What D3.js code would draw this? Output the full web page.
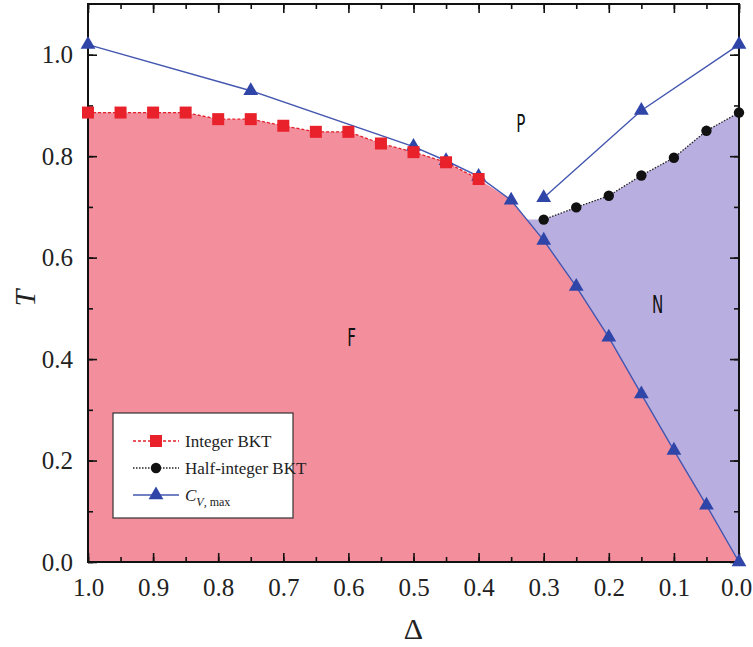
<!DOCTYPE html>
<html>
<head>
<meta charset="utf-8">
<script src="https://cdn.jsdelivr.net/npm/d3@7"></script>
<style>
  body { margin: 0; background: #fff; }
</style>
</head>
<body>
<div id="chart"></div>
<script>
// Integer BKT (red squares)
var integerDelta = [1.0, 0.95, 0.9, 0.85, 0.8, 0.75, 0.7, 0.65, 0.6, 0.55, 0.5, 0.45, 0.4]
var integerT = [0.886, 0.886, 0.886, 0.886, 0.873, 0.873, 0.860, 0.848, 0.848, 0.825, 0.808, 0.788, 0.755]

// Half-integer BKT (black circles)
var halfDelta = [0.3, 0.25, 0.2, 0.15, 0.1, 0.05, 0.0]
var halfT = [0.675, 0.699, 0.722, 0.762, 0.797, 0.850, 0.886]

// C_V,max (blue triangles), lower branch and upper branch
var cvLowerDelta = [1.0, 0.75, 0.5, 0.45, 0.4, 0.35, 0.3, 0.25, 0.2, 0.15, 0.1, 0.05, 0.0]
var cvLowerT = [1.02, 0.929, 0.819, 0.791, 0.760, 0.713, 0.634, 0.543, 0.443, 0.331, 0.220, 0.112, 0.0]
var cvUpperDelta = [0.3, 0.15, 0.0]
var cvUpperT = [0.718, 0.890, 1.02]

var xTicks = [1.0, 0.9, 0.8, 0.7, 0.6, 0.5, 0.4, 0.3, 0.2, 0.1, 0.0]
var yTicks = [0.0, 0.2, 0.4, 0.6, 0.8, 1.0]

var zip = (xs, ys) => xs.map((d, i) => ({delta: d, t: ys[i]}))
var integerPts = zip(integerDelta, integerT)
var halfPts = zip(halfDelta, halfT)
var cvLower = zip(cvLowerDelta, cvLowerT)
var cvUpper = zip(cvUpperDelta, cvUpperT)

var serif = '"Liberation Serif", "Times New Roman", serif'

var margin = {top: 4, right: 14, bottom: 85, left: 88}
var width = 753 - margin.left - margin.right
var height = 647 - margin.top - margin.bottom

var svg = d3.select('#chart')
    .append('svg')
    .attr('width', 753)
    .attr('height', 647)
    .append('g')
    .attr('transform', `translate(${margin.left}, ${margin.top})`)

var x = d3.scaleLinear().domain([1.0, 0.0]).range([0, width])
var y = d3.scaleLinear().domain([0, 1.1]).range([height, 0])

// F region: under integer BKT down to 0.4, then under the C_V lower branch
var fTop = integerPts.concat(cvLower.filter(d => d.delta < 0.4))
var area = d3.area().x(d => x(d.delta)).y0(y(0)).y1(d => y(d.t))
svg.append('path')
    .datum(fTop)
    .attr('d', area)
    .attr('fill', '#f38e9d')

// N region: between half-integer BKT and C_V lower branch
// junction where the C_V branch reaches the first half-integer temperature
var tJ = halfPts[0].t
var jIdx = cvLower.findIndex(d => d.t < tJ)
var a = cvLower[jIdx - 1], b = cvLower[jIdx]
var junction = {delta: a.delta + (b.delta - a.delta) * (a.t - tJ) / (a.t - b.t), t: tJ}
var nPoly = [junction].concat(halfPts)
    .concat(cvLower.filter(d => d.delta < junction.delta).reverse())
svg.append('path')
    .attr('d', d3.line().x(d => x(d.delta)).y(d => y(d.t))(nPoly) + 'Z')
    .attr('fill', '#b9aee0')

// frame + ticks
function minorVals(step, lo, hi) {
    var out = []
    for (var v = lo; v <= hi + 1e-9; v += step) out.push(+v.toFixed(3))
    return out
}
var xMinor = minorVals(0.05, 0, 1)
var yMinor = minorVals(0.1, 0, 1.05)

function styleAxis(g) {
    g.attr('class', 'axis')
    g.select('.domain').remove()
    g.selectAll('line').attr('stroke', '#111').attr('stroke-width', 1.6)
    g.selectAll('text')
        .style('font-family', serif)
        .style('font-size', '25px')
        .attr('fill', '#222')
}

svg.append('g')
    .attr('transform', `translate(0, ${height})`)
    .call(d3.axisBottom(x).tickValues(xMinor).tickSize(-5).tickFormat(''))
    .call(styleAxis)
var xAxis = svg.append('g')
    .attr('transform', `translate(0, ${height})`)
    .call(d3.axisBottom(x).tickValues(xTicks).tickSize(-9).tickPadding(16).tickFormat(d3.format('.1f')))
    .call(styleAxis)
// keep the last label inside the picture
xAxis.selectAll('text').filter(d => d === 0).attr('dx', -3)
svg.append('g')
    .call(d3.axisTop(x).tickValues(xMinor).tickSize(-5).tickFormat(''))
    .call(styleAxis)
svg.append('g')
    .call(d3.axisTop(x).tickValues(xTicks).tickSize(-9).tickFormat(''))
    .call(styleAxis)

svg.append('g')
    .call(d3.axisLeft(y).tickValues(yMinor).tickSize(-5).tickFormat(''))
    .call(styleAxis)
svg.append('g')
    .call(d3.axisLeft(y).tickValues(yTicks).tickSize(-9).tickPadding(15).tickFormat(d3.format('.1f')))
    .call(styleAxis)
svg.append('g')
    .attr('transform', `translate(${width}, 0)`)
    .call(d3.axisRight(y).tickValues(yMinor).tickSize(-5).tickFormat(''))
    .call(styleAxis)
svg.append('g')
    .attr('transform', `translate(${width}, 0)`)
    .call(d3.axisRight(y).tickValues(yTicks).tickSize(-9).tickFormat(''))
    .call(styleAxis)

svg.append('rect')
    .attr('width', width).attr('height', height)
    .attr('fill', 'none').attr('stroke', '#111').attr('stroke-width', 2)

// lines
var line = d3.line().x(d => x(d.delta)).y(d => y(d.t))
svg.append('path').datum(cvLower).attr('d', line)
    .attr('fill', 'none').attr('stroke', '#4356b0').attr('stroke-width', 1.4)
svg.append('path').datum(cvUpper).attr('d', line)
    .attr('fill', 'none').attr('stroke', '#4356b0').attr('stroke-width', 1.4)
svg.append('path').datum(integerPts).attr('d', line)
    .attr('fill', 'none').attr('stroke', '#e2202b').attr('stroke-width', 1.3).attr('stroke-dasharray', '3,2')
svg.append('path').datum(halfPts).attr('d', line)
    .attr('fill', 'none').attr('stroke', '#222').attr('stroke-width', 1.3).attr('stroke-dasharray', '1.5,1.5')

// markers
var tri = d3.symbol().type(d3.symbolTriangle).size(95)
svg.selectAll('.cv').data(cvLower.concat(cvUpper)).enter().append('path')
    .attr('transform', d => `translate(${x(d.delta)}, ${y(d.t)})`)
    .attr('d', tri).attr('fill', '#2f45a8')
svg.selectAll('.sq').data(integerPts).enter().append('rect')
    .attr('x', d => x(d.delta) - 6).attr('y', d => y(d.t) - 6)
    .attr('width', 12).attr('height', 12).attr('fill', '#e8212b')
svg.selectAll('.ci').data(halfPts).enter().append('circle')
    .attr('cx', d => x(d.delta)).attr('cy', d => y(d.t))
    .attr('r', 5.2).attr('fill', '#111')

// phase labels
var phases = [
    {name: 'P', delta: 0.335, t: 0.866},
    {name: 'N', delta: 0.125, t: 0.508},
    {name: 'F', delta: 0.595, t: 0.443}
]
svg.selectAll('.phase').data(phases).enter().append('text')
    .attr('transform', d => `translate(${x(d.delta)}, ${y(d.t)}) scale(0.8, 1.2)`)
    .attr('text-anchor', 'middle').attr('dy', '0.36em')
    .style('font-family', '"DejaVu Sans Condensed", "DejaVu Sans", sans-serif')
    .attr('font-size', 21).attr('fill', '#111')
    .text(d => d.name)

// axis titles
svg.append('text')
    .attr('x', width / 2).attr('y', height + 77)
    .attr('text-anchor', 'middle')
    .style('font-family', serif).attr('font-size', 30).attr('fill', '#222')
    .text('Δ')
svg.append('text')
    .attr('transform', `translate(-53, ${y(0.52)}) rotate(-90)`)
    .attr('text-anchor', 'middle')
    .style('font-family', serif).attr('font-style', 'italic')
    .attr('font-size', 30).attr('fill', '#222')
    .text('T')

// legend
var legend = svg.append('g').attr('transform', 'translate(25, 409)')
legend.append('rect')
    .attr('width', 180).attr('height', 105)
    .attr('fill', '#fff').attr('stroke', '#333').attr('stroke-width', 1.2)
var entries = [
    {label: 'Integer BKT', kind: 'sq'},
    {label: 'Half-integer BKT', kind: 'ci'},
    {label: 'C', kind: 'cv'}
]
var rows = legend.selectAll('.row').data(entries).enter().append('g')
    .attr('transform', (d, i) => `translate(0, ${28 + i * 27})`)
rows.append('line')
    .attr('x1', 20).attr('x2', 66)
    .attr('stroke', d => d.kind === 'sq' ? '#e2202b' : d.kind === 'ci' ? '#222' : '#4356b0')
    .attr('stroke-width', 1.3)
    .attr('stroke-dasharray', d => d.kind === 'sq' ? '3,2' : d.kind === 'ci' ? '1.5,1.5' : null)
rows.filter(d => d.kind === 'sq').append('rect')
    .attr('x', 37).attr('y', -6).attr('width', 12).attr('height', 12).attr('fill', '#e8212b')
rows.filter(d => d.kind === 'ci').append('circle')
    .attr('cx', 43).attr('r', 5.2).attr('fill', '#111')
rows.filter(d => d.kind === 'cv').append('path')
    .attr('transform', 'translate(43, 0)').attr('d', tri).attr('fill', '#2f45a8')
var txt = rows.append('text')
    .attr('x', 72).attr('dy', '0.35em')
    .style('font-family', serif).attr('font-size', 17).attr('fill', '#222')
txt.filter(d => d.kind !== 'cv').text(d => d.label)
var cvTxt = txt.filter(d => d.kind === 'cv')
cvTxt.append('tspan').attr('font-style', 'italic').text('C')
cvTxt.append('tspan').attr('font-style', 'italic').attr('font-size', 12).attr('dy', '0.45em').text('V')
cvTxt.append('tspan').attr('font-size', 12).text(', max')
</script>
</body>
</html>
